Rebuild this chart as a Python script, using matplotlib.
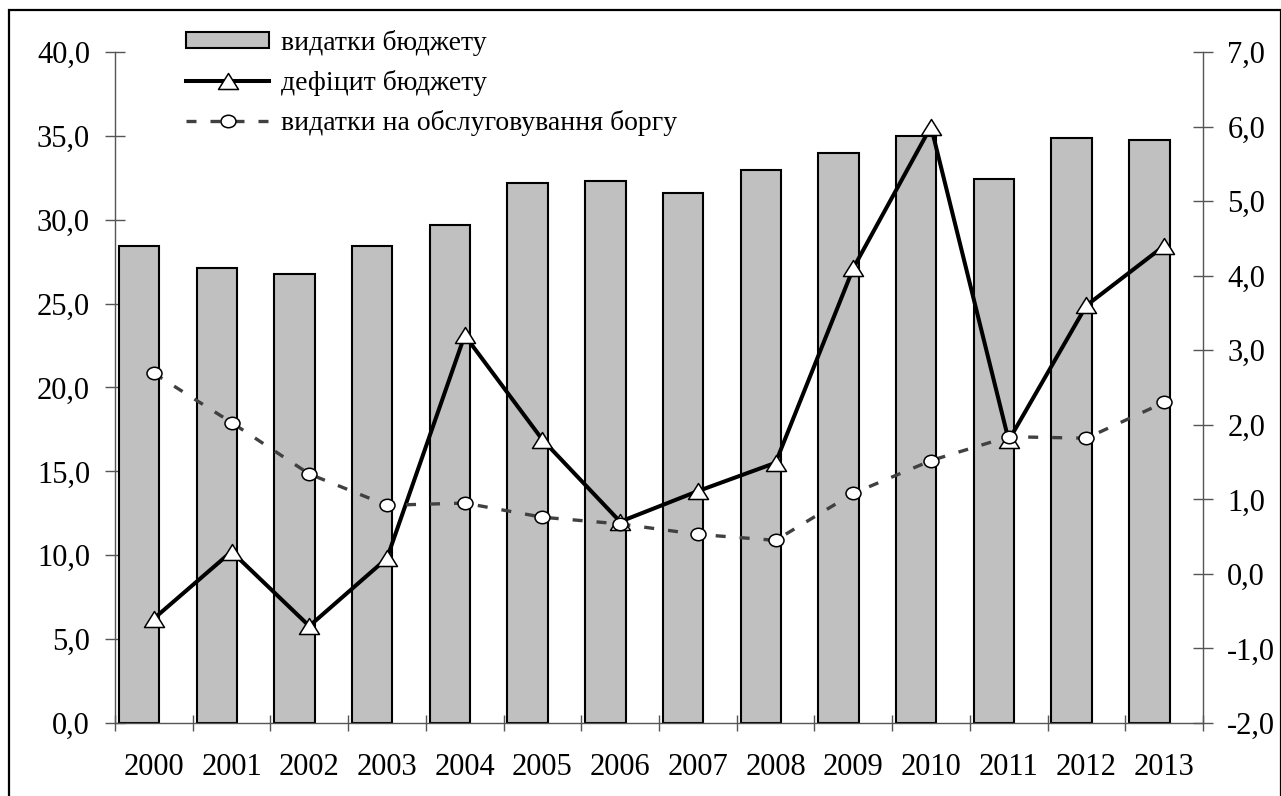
import matplotlib
matplotlib.use("Agg")
import matplotlib.pyplot as plt
import numpy as np
from matplotlib.path import Path
from matplotlib.transforms import Affine2D
from matplotlib.patches import Rectangle, Patch
from matplotlib.lines import Line2D
from matplotlib.ticker import FixedLocator, FuncFormatter

years = ["2000", "2001", "2002", "2003", "2004", "2005", "2006",
         "2007", "2008", "2009", "2010", "2011", "2012", "2013"]
budget_expenditure = [28.45, 27.13, 26.74, 28.45, 29.7, 32.22, 32.32,
                      31.6, 32.94, 33.97, 34.98, 32.42, 34.88, 34.78]
budget_deficit = [-0.6, 0.3, -0.7, 0.21, 3.2, 1.8, 0.7,
                  1.11, 1.49, 4.1, 6.0, 1.79, 3.6, 4.4]
debt_service = [2.69, 2.03, 1.34, 0.92, 0.95, 0.76, 0.67,
                0.53, 0.45, 1.08, 1.52, 1.84, 1.82, 2.3]

label_bars = "видатки бюджету"
label_deficit = "дефіцит бюджету"
label_debt = "видатки на обслуговування боргу"

plt.rcParams['font.family'] = ['Liberation Serif', 'DejaVu Serif']

W, H = 1281, 796
fig = plt.figure(figsize=(W / 100, H / 100), dpi=100)
fig.patch.set_facecolor('white')

# outer frame
fig.add_artist(Rectangle((9 / W, -0.05), (1281 - 9) / W, 1.05 - 10 / H,
                         transform=fig.transFigure, fill=False,
                         edgecolor='black', linewidth=1.6, clip_on=False))

ax = fig.add_axes([115 / W, 1 - 723 / H, 1088 / W, 671 / H])
ax2 = ax.twinx()

x = np.arange(len(years))
ax.bar(x - 0.19, budget_expenditure, width=0.52, color='#C0C0C0',
       edgecolor='black', linewidth=1.5, zorder=2)

tri = Path([(-1, -0.8), (1, -0.8), (0, 0.8), (-1, -0.8)],
           [Path.MOVETO, Path.LINETO, Path.LINETO, Path.CLOSEPOLY])
ell = Path.unit_circle().transformed(Affine2D().scale(1, 0.83))

ax2.plot(x, budget_deficit, color='black', linewidth=2.9,
         marker=tri, markersize=14.4, markerfacecolor='white',
         markeredgecolor='black', markeredgewidth=1.1, zorder=3)
ax2.plot(x, debt_service, color='#404040', linewidth=2.4,
         dashes=(3.0, 4.2), marker=ell, markersize=10.8,
         markerfacecolor='white', markeredgecolor='black',
         markeredgewidth=1.1, zorder=4)

ax.set_xlim(-0.5, len(years) - 0.5)
ax.set_ylim(0, 40)
ax2.set_ylim(-2, 7)

fmt = FuncFormatter(lambda v, p: f"{v:.1f}".replace('.', ','))
ax.yaxis.set_major_locator(FixedLocator(np.arange(0, 40.1, 5)))
ax.yaxis.set_major_formatter(fmt)
ax2.yaxis.set_major_locator(FixedLocator(np.arange(-2, 7.1, 1)))
ax2.yaxis.set_major_formatter(fmt)

ax.xaxis.set_major_locator(FixedLocator(np.arange(-0.5, len(years), 1)))
ax.xaxis.set_major_formatter(FuncFormatter(lambda v, p: ""))
ax.xaxis.set_minor_locator(FixedLocator(x))
ax.set_xticklabels(years, minor=True)

spine_col = '#555555'
for a in (ax, ax2):
    for s in a.spines.values():
        s.set_visible(False)
ax.spines['left'].set_visible(True)
ax.spines['left'].set_color(spine_col)
ax.spines['bottom'].set_visible(True)
ax.spines['bottom'].set_color(spine_col)
ax2.spines['right'].set_visible(True)
ax2.spines['right'].set_color(spine_col)
for s in ('left', 'bottom'):
    ax.spines[s].set_linewidth(1.0)
ax2.spines['right'].set_linewidth(1.0)

ax.tick_params(axis='y', which='major', direction='inout', length=14,
               width=1.0, color=spine_col, labelsize=22, pad=11,
               labelcolor='black')
ax2.tick_params(axis='y', which='major', direction='inout', length=14,
                width=1.0, color=spine_col, labelsize=22, pad=10.5,
                labelcolor='black')
ax.tick_params(axis='x', which='major', direction='inout', length=11.5,
               width=1.0, color=spine_col)
ax.tick_params(axis='x', which='minor', length=0, labelsize=22, pad=21.5,
               labelcolor='black')

handles = [
    Patch(facecolor='#C0C0C0', edgecolor='black', linewidth=1.5),
    Line2D([], [], color='black', linewidth=2.9, marker=tri,
           markersize=14.4, markerfacecolor='white', markeredgecolor='black',
           markeredgewidth=1.1),
    Line2D([], [], color='#404040', linewidth=2.4, dashes=(3.0, 4.2),
           marker=ell, markersize=10.8, markerfacecolor='white',
           markeredgecolor='black', markeredgewidth=1.1),
]
leg = fig.legend(handles, [label_bars, label_deficit, label_debt],
                 loc='upper left', bbox_to_anchor=(186 / W, 1 - 30 / H),
                 bbox_transform=fig.transFigure, frameon=False,
                 fontsize=20, handlelength=3.0, handleheight=0.47,
                 handletextpad=0.43, labelspacing=0.5, borderpad=0,
                 borderaxespad=0)

fig.savefig('out.png', dpi=100, facecolor='white')
